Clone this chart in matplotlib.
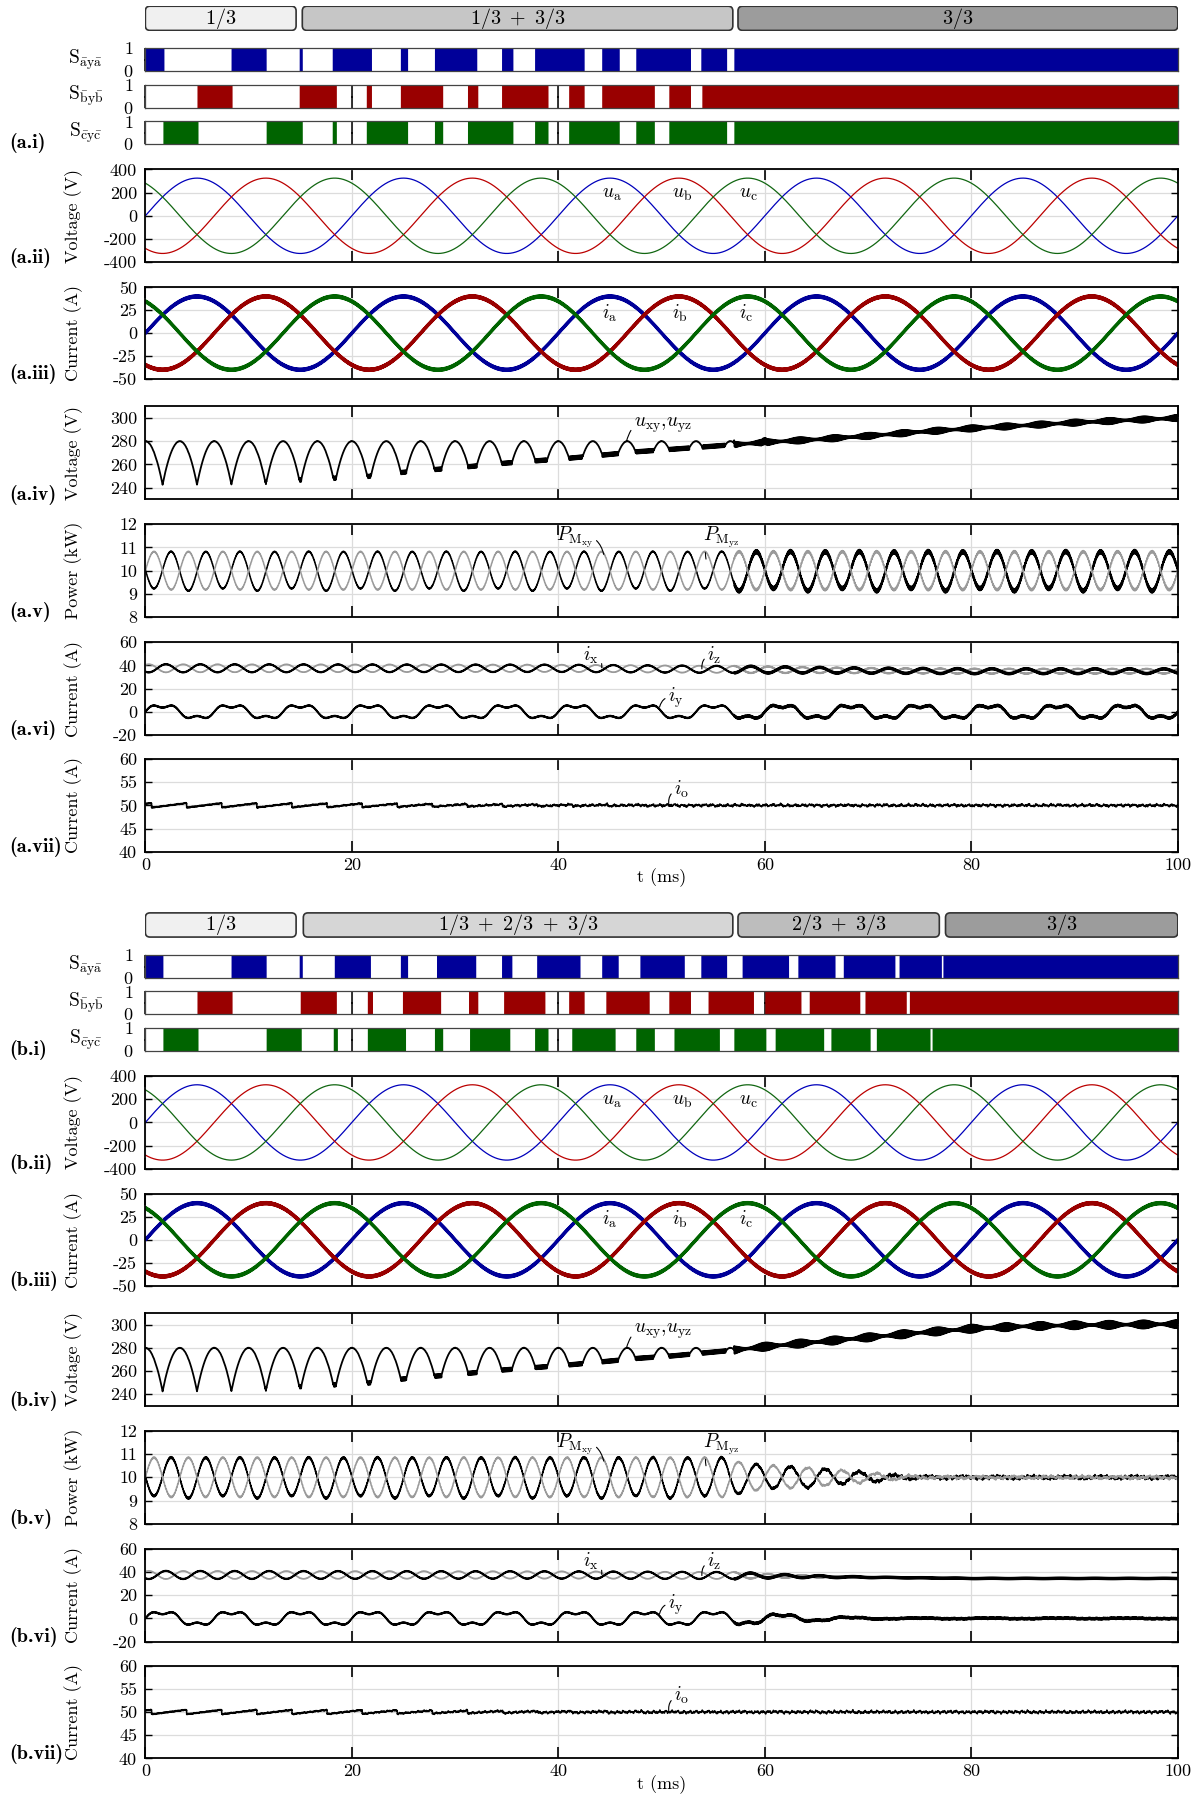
import numpy as np
import matplotlib.pyplot as plt
from matplotlib.patches import FancyBboxPatch

plt.rcParams['font.family'] = ['cmr10', 'DejaVu Serif']
plt.rcParams['mathtext.fontset'] = 'cm'
plt.rcParams['axes.unicode_minus'] = False

# time axis in ms
t = np.linspace(0, 100, 40001)

# operating modes above each group
modes_a = ['$1/3$', '$1/3\\ +\\ 3/3$', '$3/3$']
spans_a = [(0, 14.6), (15.2, 56.9), (57.4, 100)]
shades_a = ['#f0f0f0', '#c6c6c6', '#9c9c9c']
modes_b = ['$1/3$', '$1/3\\ +\\ 2/3\\ +\\ 3/3$', '$2/3\\ +\\ 3/3$', '$3/3$']
spans_b = [(0, 14.6), (15.3, 56.9), (57.4, 76.9), (77.5, 100)]
shades_b = ['#f0f0f0', '#d6d6d6', '#bdbdbd', '#9c9c9c']

# switch states: intervals (ms) where the switch is 0
a_off_a = [(1.8, 8.3), (11.7, 14.9), (15.2, 18.1), (21.9, 24.7), (25.4, 28.0), (32.1, 34.5),
           (35.6, 37.7), (42.5, 44.2), (45.9, 47.5), (52.8, 53.8), (56.3, 57.0)]
a_off_b = [(0, 5.0), (8.4, 14.9), (18.5, 21.4), (21.9, 24.7), (28.8, 31.2), (32.2, 34.5),
           (39.0, 41.0), (42.5, 44.2), (49.3, 50.7), (52.8, 53.9)]
a_off_c = [(0, 1.7), (5.1, 11.7), (15.2, 18.1), (18.5, 21.4), (25.4, 28.0), (28.8, 31.2),
           (35.6, 37.7), (39.0, 41.0), (45.9, 47.5), (49.3, 50.7), (56.3, 57.0)]
b_off_a = [(1.7, 8.3), (11.7, 14.9), (15.2, 18.3), (21.8, 24.7), (25.4, 28.2), (32.0, 34.5),
           (35.5, 37.9), (42.1, 44.2), (45.8, 47.9), (52.2, 53.8), (56.3, 57.8), (62.3, 63.2),
           (66.8, 67.6), (72.6, 73.0), (77.1, 77.25)]
b_off_b = [(0, 5.0), (8.4, 15.0), (18.5, 21.5), (22.0, 24.9), (28.6, 31.3), (32.2, 34.7),
           (38.7, 41.0), (42.5, 44.6), (48.8, 50.7), (52.8, 54.5), (58.9, 60.0), (63.5, 64.3),
           (69.2, 69.7), (73.7, 74.0)]
b_off_c = [(0, 1.7), (5.1, 11.7), (15.1, 18.2), (18.6, 21.5), (25.2, 28.0), (28.8, 31.4),
           (35.3, 37.7), (39.0, 41.3), (45.5, 47.5), (49.3, 51.2), (55.6, 57.0), (60.1, 61.0),
           (65.7, 66.4), (70.2, 70.8), (76.0, 76.2)]

# amplitudes
U_PEAK = 325      # grid voltage peak (V)
I_PEAK = 40       # grid current peak (A)
U_TOP = 280       # dc voltage arc top (V)
P_MEAN = 10       # module power (kW)

# dc voltage floor level (valleys of a.iv / b.iv)
floor_t = [0, 9, 11.7, 15, 18.3, 21.5, 24.8, 28, 31.3, 34.8, 37.8, 41.3, 44.3, 47.8, 51, 54,
           57, 60, 65, 70, 75, 80, 85, 90, 95, 100]
floor_a = [240, 240, 244.5, 246.5, 248, 249.5, 253, 255.5, 258, 261, 263, 265.5, 268, 271, 273,
           275, 277, 279, 281.5, 284.5, 288, 291, 293.5, 296, 298, 300]
floor_b = [240, 240, 244.5, 246.5, 248, 249.5, 253, 255.5, 258, 261, 263, 265.5, 268, 271, 273,
           275.5, 278, 281, 285, 289, 293, 296.5, 298.5, 299.5, 300, 300.5]

# power oscillation envelope (kW), case b
penv_t = [0, 56, 58, 61, 64, 67, 70, 73, 76, 100]
penv_b = [0.85, 0.85, 0.6, 0.5, 0.42, 0.32, 0.2, 0.08, 0.03, 0.03]

# module currents i_x / i_z: mean and swing (A)
ixm_t = [0, 40, 57, 70, 80, 100]
ixm_a = [37.5, 37.5, 36.5, 35.5, 35, 35]
ixm_b = [37.5, 37.5, 37, 35.5, 34.5, 34.5]
ixa_t = [0, 57, 60, 64, 68, 72, 100]
ixa_a = [3.5, 3.0, 2.8, 2.5, 2.3, 2.2, 2.0]
ixa_b = [3.5, 3.0, 1.8, 1.0, 0.5, 0.15, 0.1]
iya_a = [5.6, 5.6, 5.6, 5.6, 5.6, 5.6, 5.6]
iya_b = [5.6, 5.6, 4.0, 2.5, 1.0, 0.3, 0.2]

# output current sawtooth and noise (A)
saw_t = [0, 20, 30, 40, 50, 100]
saw_amp = [1.0, 0.9, 0.6, 0.35, 0.15, 0.1]
ion_t = [0, 20, 35, 50, 100]
ion_amp = [0.05, 0.12, 0.25, 0.35, 0.35]

# ---------------------------------------------------------------
w50 = 2 * np.pi * 0.05 * t
w150 = 2 * np.pi * 0.15 * t
w300 = 2 * np.pi * 0.3 * t
hf = np.sin(2 * np.pi * 10 * t)            # switching ripple
hf2 = np.sin(2 * np.pi * 13.7 * t + 1.1)
jit = (np.sin(2 * np.pi * 1.37 * t) + 0.7 * np.sin(2 * np.pi * 2.91 * t + 1.0)
       + 0.5 * np.sin(2 * np.pi * 5.3 * t + 2.0) + 0.4 * np.sin(2 * np.pi * 8.7 * t + 0.5)) / 2.6
jit2 = (np.sin(2 * np.pi * 1.71 * t + 0.3) + 0.7 * np.sin(2 * np.pi * 3.37 * t + 2.2)
        + 0.5 * np.sin(2 * np.pi * 6.1 * t + 1.4)) / 2.2
late = t >= 57

ua = U_PEAK * np.sin(w50)
ub = U_PEAK * np.sin(w50 - 2 * np.pi / 3)
uc = U_PEAK * np.sin(w50 + 2 * np.pi / 3)
ia = I_PEAK * np.sin(w50) + 1.3 * hf
ib = I_PEAK * np.sin(w50 - 2 * np.pi / 3) + 1.3 * hf2
ic = I_PEAK * np.sin(w50 + 2 * np.pi / 3) + 1.3 * hf

rect = U_TOP * np.max(np.abs(np.cos(w50[None, :] - np.arange(3)[:, None] * np.pi / 3)), axis=0)


def dc_voltage(fl, bulge_amp):
    floor = np.interp(t, floor_t, fl)
    base = np.maximum(rect, floor)
    bulge = 0.5 + 0.5 * np.cos(w300)
    amp = np.where(late, 0.8 + bulge_amp * bulge, np.where(floor >= rect, 1.6, 0.15))
    return base + amp * hf


uxy_a = dc_voltage(floor_a, 2.0)
uxy_b = dc_voltage(floor_b, 2.8)

pyz_a = P_MEAN + 0.82 * np.sin(w300) + np.where(late, 0.05, 0.02) * hf
pxy_a = P_MEAN - 0.82 * np.sin(w300) + 0.05 * np.sin(w150 + 0.7) + np.where(late, 0.09, 0.02) * hf2
penv = np.interp(t, penv_t, penv_b)
pnoise = np.interp(t, [0, 57, 70, 100], [0, 0.02, 0.07, 0.07])
pyz_b = P_MEAN + penv * np.sin(w300) + pnoise * jit + 0.03 * hf
pxy_b = P_MEAN - penv * np.sin(w300) + 0.05 * penv / 0.85 * np.sin(w150 + 0.7) + pnoise * jit2 + 0.04 * hf2


def module_currents(mean_v, amp_v, yamp_v, rip):
    m = np.interp(t, ixm_t, mean_v)
    a = np.interp(t, ixa_t, amp_v)
    ay = np.interp(t, ixa_t, yamp_v)
    ix = m - a * np.cos(w300 - 0.6) + rip * hf
    iz = m + a * np.cos(w300 - 0.6) + 0.4 * rip * hf2
    iy = ay * (np.sin(w150) + 0.35 * np.sin(3 * w150)) + rip * hf2 + 0.3 * late * jit
    return ix, iz, iy


rip_i = np.where(late, 0.8, 0.3)
ix_a, iz_a, iy_a = module_currents(ixm_a, ixa_a, iya_a, rip_i)
ix_b, iz_b, iy_b = module_currents(ixm_b, ixa_b, iya_b, rip_i)

saw = ((t - 0.6) % 3.4) / 3.4 - 0.5
io_a = 50 + np.interp(t, saw_t, saw_amp) * saw + np.interp(t, ion_t, ion_amp) * jit + 0.1 * hf
io_b = 50 + np.interp(t, saw_t, saw_amp) * saw + np.interp(t, ion_t, ion_amp) * jit2 + 0.1 * hf

# ---------------------------------------------------------------
fig = plt.figure(figsize=(12.03, 17.95), dpi=100)
L0, W0 = 127 / 1051, 902 / 1051
XT = [0, 20, 40, 60, 80, 100]
BLUE, RED, GREEN = '#000099', '#990000', '#006400'
GREY = '#9a9a9a'


def add_ax(top, bot):
    return fig.add_axes([L0, 1 - bot / 1568, W0, (bot - top) / 1568])


def tag_text(y, s):
    fig.text(0.008, y, s, ha='left', va='center', fontsize=14.5, family=['cmb10', 'DejaVu Serif'])


def draw_modes(top, bot, labels, spans, shades):
    ax = add_ax(top, bot)
    ax.set_xlim(0, 100)
    ax.set_ylim(0, 1)
    ax.axis('off')
    asp = (W0 * 1203 / 100) / ((bot - top) / 1568 * 1795)
    for lab, (a, b), c in zip(labels, spans, shades):
        ax.add_patch(FancyBboxPatch((a, 0.02), b - a, 0.96, boxstyle='round,pad=0,rounding_size=0.45',
                                    mutation_aspect=asp, fc=c, ec='#333333', lw=1.2))
        ax.text((a + b) / 2, 0.5, lab, ha='center', va='center', fontsize=14.5)


def draw_switch(top, bot, off, color, label):
    ax = add_ax(top, bot)
    s = np.ones_like(t)
    for a, b in off:
        s[(t >= a) & (t < b)] = 0
    ax.fill_between(t, 0, s, color=color, lw=0)
    ax.set_xlim(0, 100)
    ax.set_ylim(0, 1)
    ax.set_yticks([0, 1])
    ax.set_yticklabels(['0', '1'])
    ax.set_xticks(XT)
    ax.set_xticklabels([])
    ax.set_axisbelow(True)
    ax.grid(axis='x', color='#d0d0d0', lw=0.8)
    ax.tick_params(axis='x', direction='in', top=True, length=9, width=1.1)
    ax.tick_params(axis='y', length=0, labelsize=13, pad=9)
    for sp in ax.spines.values():
        sp.set_linewidth(0.9)
        sp.set_color('#444444')
    ax.text(-0.058, 0.5, label, transform=ax.transAxes, ha='center', va='center', fontsize=14)
    return ax


def panel(top, bot, ylim, yticks, ylabel, tag, xlabels=False):
    ax = add_ax(top, bot)
    ax.set_xlim(0, 100)
    ax.set_ylim(*ylim)
    ax.set_xticks(XT)
    ax.set_yticks(yticks)
    ax.set_yticklabels([f'{v:g}' for v in yticks])
    if xlabels:
        ax.set_xticklabels([str(v) for v in XT])
        ax.set_xlabel('t (ms)', fontsize=13, labelpad=-3)
    else:
        ax.set_xticklabels([])
    ax.set_axisbelow(True)
    ax.grid(color='#dcdcdc', lw=0.9)
    ax.tick_params(axis='x', direction='in', top=True, length=8, width=1.2, labelsize=13, pad=4)
    ax.tick_params(axis='y', direction='in', right=True, length=5, width=1.0, labelsize=13, pad=6)
    for sp in ax.spines.values():
        sp.set_linewidth(1.3)
    ax.set_ylabel(ylabel, fontsize=13)
    ax.yaxis.set_label_coords(-0.06, 0.5)
    tag_text(1 - (bot - 4) / 1568, tag)
    return ax


def callout(ax, text, xytext, xy, rad=0.5):
    ax.annotate(text, xy=xy, xytext=xytext, fontsize=14, ha='left', va='center',
                arrowprops=dict(arrowstyle='-', lw=0.8, color='k',
                                connectionstyle=f'arc3,rad={rad}', shrinkA=0, shrinkB=0))


def draw_group(off, g, dy, modes, spans, shades, uxy, pxy, pyz, ix, iz, iy, io):
    draw_modes(5 + dy, 27 + dy, modes, spans, shades)
    draw_switch(42 + dy, 62 + dy, off[0], BLUE, r'$\mathrm{S}_{\mathrm{\bar{a}y\bar{a}}}$')
    draw_switch(74 + dy, 94 + dy, off[1], RED, r'$\mathrm{S}_{\mathrm{\bar{b}y\bar{b}}}$')
    draw_switch(106 + dy, 126 + dy, off[2], GREEN, r'$\mathrm{S}_{\mathrm{\bar{c}y\bar{c}}}$')
    tag_text(1 - (125 + dy) / 1568, '(%s.i)' % g)

    ax = panel(148 + dy, 229 + dy, (-400, 400), [-400, -200, 0, 200, 400], 'Voltage (V)',
               '(%s.ii)' % g)
    ax.plot(t, ua, color='#0000bb', lw=0.9)
    ax.plot(t, ub, color='#bb0000', lw=0.9)
    ax.plot(t, uc, color='#116611', lw=0.9)
    ax.text(44.2, 185, r'$u_\mathrm{a}$', fontsize=14, va='center')
    ax.text(51.0, 185, r'$u_\mathrm{b}$', fontsize=14, va='center')
    ax.text(57.5, 185, r'$u_\mathrm{c}$', fontsize=14, va='center')

    ax = panel(251 + dy, 331 + dy, (-50, 50), [-50, -25, 0, 25, 50], 'Current (A)',
               '(%s.iii)' % g)
    ax.plot(t, ia, color=BLUE, lw=1.6)
    ax.plot(t, ib, color=RED, lw=1.6)
    ax.plot(t, ic, color=GREEN, lw=1.6)
    ax.text(44.2, 22, r'$i_\mathrm{a}$', fontsize=14, va='center')
    ax.text(51.0, 22, r'$i_\mathrm{b}$', fontsize=14, va='center')
    ax.text(57.5, 22, r'$i_\mathrm{c}$', fontsize=14, va='center')

    ax = panel(355 + dy, 436 + dy, (230, 310), [240, 260, 280, 300], 'Voltage (V)',
               '(%s.iv)' % g)
    ax.plot(t, uxy, color='k', lw=1.3)
    callout(ax, r'$u_\mathrm{xy}$,$u_\mathrm{yz}$', (47.3, 294), (46.6, 280), rad=0.6)

    ax = panel(458 + dy, 539 + dy, (8, 12), [8, 9, 10, 11, 12], 'Power (kW)',
               '(%s.v)' % g)
    ax.plot(t, pxy, color='k', lw=1.1)
    ax.plot(t, pyz, color=GREY, lw=1.1)
    callout(ax, r'$P_{\mathrm{M_{xy}}}$', (39.8, 11.45), (44.4, 10.7), rad=-0.5)
    callout(ax, r'$P_{\mathrm{M_{yz}}}$', (54.0, 11.45), (54.3, 10.5), rad=0.5)

    ax = panel(561 + dy, 642 + dy, (-20, 60), [-20, 0, 20, 40, 60], 'Current (A)',
               '(%s.vi)' % g)
    ax.plot(t, iz, color=GREY, lw=1.2)
    ax.plot(t, ix, color='k', lw=1.3)
    ax.plot(t, iy, color='k', lw=1.3)
    callout(ax, r'$i_\mathrm{x}$', (42.4, 49), (44.2, 38), rad=-0.5)
    callout(ax, r'$i_\mathrm{z}$', (54.4, 49), (53.9, 37), rad=0.5)
    callout(ax, r'$i_\mathrm{y}$', (50.6, 12), (49.8, 4), rad=0.5)

    ax = panel(663 + dy, 744 + dy, (40, 60), [40, 45, 50, 55, 60], 'Current (A)',
               '(%s.vii)' % g, xlabels=True)
    ax.plot(t, io, color='k', lw=1.1)
    callout(ax, r'$i_\mathrm{o}$', (51.2, 53.5), (50.7, 50), rad=0.5)


draw_group((a_off_a, a_off_b, a_off_c), 'a', 0, modes_a, spans_a, shades_a,
           uxy_a, pxy_a, pyz_a, ix_a, iz_a, iy_a, io_a)
draw_group((b_off_a, b_off_b, b_off_c), 'b', 792, modes_b, spans_b, shades_b,
           uxy_b, pxy_b, pyz_b, ix_b, iz_b, iy_b, io_b)

fig.savefig('out.png', dpi=100)
